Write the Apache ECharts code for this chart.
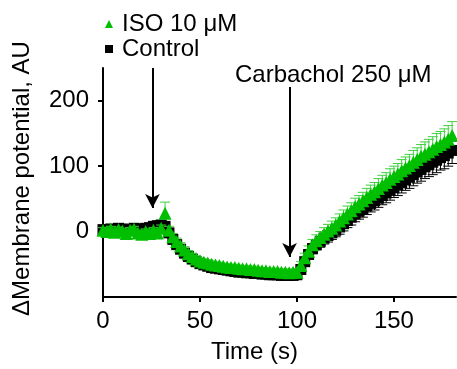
<!DOCTYPE html>
<html>
<head>
<meta charset="utf-8">
<script src="https://cdn.jsdelivr.net/npm/echarts@6/dist/echarts.min.js"></script>
<style>html,body{margin:0;padding:0;background:#fff;}#c{width:457px;height:369px;}</style>
</head>
<body>
<div id="c"></div>
<script>
const times = [0,2,4,6,8,10,12,14,16,18,
  20,22,24,26,28,30,32,34,36,38,
  40,42,44,46,48,50,52,54,56,58,
  60,62,64,66,68,70,72,74,76,78,
  80,82,84,86,88,90,92,94,96,98,
  100,102,104,106,108,110,112,114,116,118,
  120,122,124,126,128,130,132,134,136,138,
  140,142,144,146,148,150,152,154,156,158,
  160,162,164,166,168,170,172,174,176,178,
  180];
const isoValues = [2,0,4,-1,3,1,-3,2,4,-2,
  -4,0,-3,2,-2,5,28,2,-8,-15,
  -22,-28,-34,-38,-42,-45,-47,-48,-50,-51,
  -52,-53,-54,-55,-55,-56,-57,-57,-58,-58,
  -59,-60,-60,-61,-61,-61,-62,-62,-63,-62,
  -62,-52,-40,-30,-20,-14,-9,-4,1,5,
  10,16,21,27,32,38,42,47,52,57,
  61,66,71,75,80,84,88,93,97,101,
  106,110,115,118,122,126,130,133,137,141,
  147];
const isoErrors = [4,4,4,4,4,4,4,4,4,4,
  4,4,4,4,4,5,17,6,5,5,
  5,5,5,5,5,5,5,5,5,5,
  5,5,5,5,5,5,5,5,5,5,
  5,5,5,5,5,5,5,5,5,5,
  5,6,7,8,8,9,9,10,10,11,
  11,11,12,12,12,13,13,13,14,14,
  14,15,15,15,16,16,16,17,17,17,
  18,18,18,19,19,19,20,20,20,21,
  21];
const controlValues = [3,2,4,3,5,4,2,3,5,4,
  3,5,6,8,9,10,8,-2,-12,-20,
  -27,-33,-38,-42,-46,-49,-51,-53,-55,-56,
  -57,-58,-59,-60,-61,-62,-62,-63,-63,-64,
  -64,-65,-65,-66,-66,-66,-67,-67,-67,-67,
  -66,-58,-46,-35,-26,-20,-15,-10,-6,-2,
  2,7,12,17,22,27,31,35,39,43,
  47,51,55,59,63,67,71,75,79,83,
  87,91,95,99,102,106,109,113,116,120,
  124];
const controlErrors = [4,4,4,4,4,4,4,4,4,4,
  4,4,4,4,4,5,6,6,5,5,
  5,5,5,5,5,5,5,5,5,5,
  5,5,5,5,5,5,5,5,5,5,
  5,5,5,5,5,5,5,5,5,5,
  5,6,7,7,8,8,9,9,10,10,
  10,11,11,11,12,12,12,13,13,13,
  14,14,14,15,15,15,16,16,16,17,
  17,17,18,18,18,19,19,19,20,20,
  20];
const yTicks = [0,100,200];
const seriesNames = ['ISO 10 μM','Control'];
const arrow1 = {t:25.5, from:250, to:36};
const arrow2 = {t:96.2, from:221, to:-39};
const annotationText = 'Carbachol 250 μM';

const FONT = '"Liberation Sans", Arial, sans-serif';
const GREEN = '#00bf00';
const GREEN_ERR = '#3fd03f';

function errSeries(name, vals, errs, color, dir, z) {
  return {
    type: 'custom', name: name + ' err', z: z, silent: true,
    renderItem: function (params, api) {
      const x = api.value(0), y = api.value(1), e = api.value(2);
      const p0 = api.coord([x, y]);
      const p1 = api.coord([x, y + dir * e]);
      const cw = 5;
      return {type: 'group', children: [
        {type: 'line', shape: {x1: p0[0], y1: p0[1], x2: p1[0], y2: p1[1]}, style: {stroke: color, lineWidth: 1}},
        {type: 'line', shape: {x1: p1[0] - cw, y1: p1[1], x2: p1[0] + cw, y2: p1[1]}, style: {stroke: color, lineWidth: 1}}
      ]};
    },
    data: times.map((t, i) => [t, vals[i], errs[i]])
  };
}

const chart = echarts.init(document.getElementById('c'), null, {renderer: 'canvas'});
chart.setOption({
  animation: false,
  backgroundColor: '#fff',
  textStyle: {fontFamily: FONT},
  grid: {left: 103, top: 68, right: 1, bottom: 67, containLabel: false},
  legend: {
    data: seriesNames, orient: 'vertical', left: 100, top: 7, padding: 5,
    itemWidth: 8, itemHeight: 8, itemGap: 1,
    textStyle: {fontFamily: FONT, fontSize: 24, color: '#000', lineHeight: 24, padding: [0,0,0,4]}
  },
  xAxis: {
    type: 'value', min: 0, max: 182, interval: 50,
    name: 'Time (s)', nameLocation: 'middle', nameGap: 43,
    nameTextStyle: {fontFamily: FONT, fontSize: 24, color: '#000', padding: [0, 50, 0, 0]},
    axisLine: {show: true, onZero: false, lineStyle: {color: '#000', width: 2}},
    axisTick: {show: true, length: 5, lineStyle: {color: '#000', width: 2}},
    axisLabel: {fontFamily: FONT, fontSize: 24, color: '#000', margin: 12, showMaxLabel: false},
    splitLine: {show: false}
  },
  yAxis: {
    type: 'value', min: -100, max: 250, interval: 100,
    name: 'ΔMembrane potential, AU', nameLocation: 'middle', nameGap: 69,
    nameTextStyle: {fontFamily: FONT, fontSize: 24, color: '#000', padding: [0, 0, 0, 8]},
    axisLine: {show: true, onZero: false, lineStyle: {color: '#000', width: 2}},
    axisTick: {show: true, length: 5, lineStyle: {color: '#000', width: 2}, customValues: yTicks},
    axisLabel: {fontFamily: FONT, fontSize: 24, color: '#000', margin: 14, customValues: yTicks},
    splitLine: {show: false}
  },
  graphic: [{
    type: 'text', left: 235, top: 63, z: 100,
    style: {text: annotationText, font: '24px ' + FONT, fill: '#000'}
  }],
  series: [
    errSeries('Control', controlValues, controlErrors, '#000', -1, 1),
    {
      type: 'scatter', name: 'Control', z: 2, symbol: 'rect', symbolSize: 11,
      itemStyle: {color: '#000', opacity: 1},
      data: times.map((t, i) => [t, controlValues[i]]),
      markLine: {
        silent: true, symbol: ['none', 'arrow'], symbolSize: [11, 14],
        label: {show: false},
        lineStyle: {color: '#000', width: 2, type: 'solid'},
        data: [
          [{coord: [arrow1.t, arrow1.from]}, {coord: [arrow1.t, arrow1.to]}],
          [{coord: [arrow2.t, arrow2.from]}, {coord: [arrow2.t, arrow2.to]}]
        ]
      }
    },
    errSeries('ISO 10 μM', isoValues, isoErrors, GREEN_ERR, 1, 3),
    {
      type: 'scatter', name: 'ISO 10 μM', z: 4, symbol: 'triangle', symbolSize: 13,
      itemStyle: {color: GREEN, opacity: 1},
      data: times.map((t, i) => [t, isoValues[i]])
    }
  ]
});
</script>
</body>
</html>
